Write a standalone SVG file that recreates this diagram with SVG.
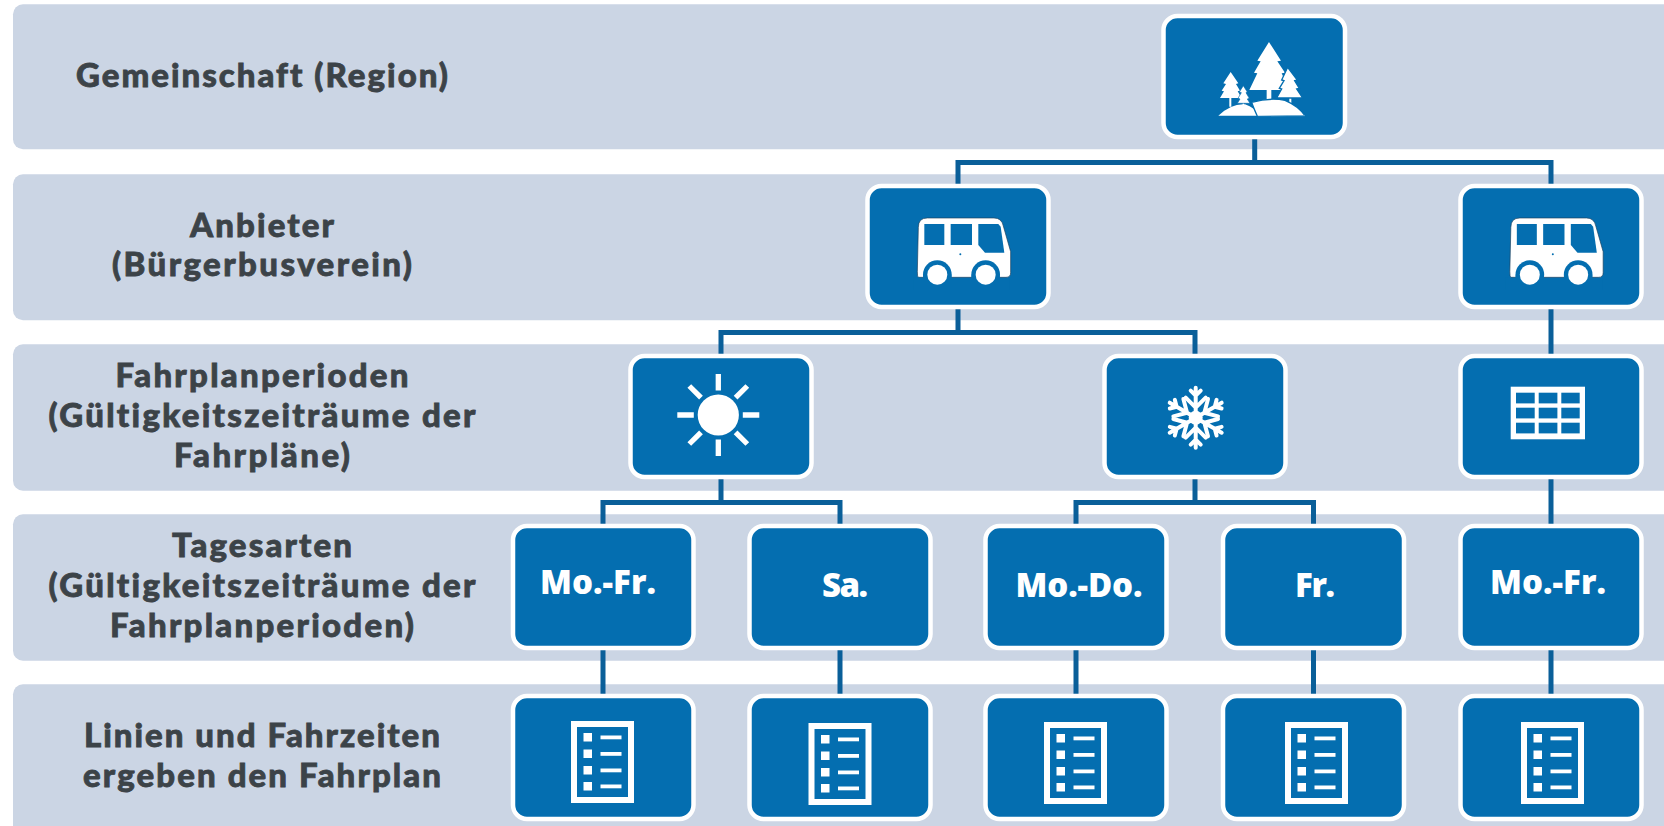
<svg xmlns="http://www.w3.org/2000/svg" xmlns:xlink="http://www.w3.org/1999/xlink" width="1664" height="826" viewBox="0 0 1664 826">
<style>
.band{fill:#cbd5e4}
.node{fill:#046eb0;stroke:#fff;stroke-width:4.500}
.lbl{font-family:"Lato","Noto Sans",sans-serif;font-weight:900;font-size:33px;font-variant-ligatures:none;fill:#3c4348;stroke:#3c4348;stroke-width:.8px;text-anchor:middle}
.day{font-family:"Open Sans","Liberation Sans",sans-serif;font-weight:800;font-size:33px;fill:#fff;text-anchor:middle}
.conn{fill:none;stroke:#0a5f99;stroke-width:5}
</style>
<defs>
<g id="doc">
<rect x="-28" y="-38" width="57" height="76" fill="none" stroke="#fff" stroke-width="6"/>
<g fill="#fff">
<rect x="-18.500" y="-29" width="8.500" height="8.500"/><rect x="-1.500" y="-26.500" width="21" height="3.800"/>
<rect x="-18.500" y="-12.500" width="8.500" height="8.500"/><rect x="-1.500" y="-10" width="21" height="3.800"/>
<rect x="-18.500" y="4" width="8.500" height="8.500"/><rect x="-1.500" y="6.500" width="21" height="3.800"/>
<rect x="-18.500" y="20" width="8.500" height="8.500"/><rect x="-1.500" y="22.500" width="21" height="3.800"/>
</g>
</g>
<g id="bus" transform="translate(870 190) scale(.3333)">
<path d="M145 112Q145 84 172 84H372Q395 84 400 108L422 185V248Q422 262 408 262H145Q142 262 142 245Z" fill="#fff" stroke="#1c3f5c" stroke-width="2"/>
<g fill="#046eb0">
<rect x="163" y="102" width="60" height="63"/>
<rect x="242" y="102" width="64" height="63"/>
<path d="M325 102H385L392 110L403 188H345L325 165Z"/>
<circle cx="202" cy="254" r="43"/><circle cx="347" cy="254" r="43"/>
<circle cx="271" cy="193" r="3"/>
</g>
<path d="M130 262V300H420V264H390A43 43 0 0 0 304 264H245A43 43 0 0 0 159 264Z" fill="#046eb0"/>
<circle cx="202" cy="254" r="30" fill="#fff"/><circle cx="347" cy="254" r="30" fill="#fff"/>
</g>
<g id="arm" fill="none" stroke="#fff" stroke-width="4" stroke-linecap="round" stroke-linejoin="round">
<path d="M0 0V-30M-5 -27L0 -22L5 -27M-10 -20L0 -10L10 -20"/>
</g>
</defs>
<g id="bands">
<rect class="band" x="13" y="4.300" width="1680" height="145" rx="10"/>
<rect class="band" x="13" y="174.300" width="1680" height="146" rx="10"/>
<rect class="band" x="13" y="344.300" width="1680" height="146.400" rx="10"/>
<rect class="band" x="13" y="514.300" width="1680" height="146.400" rx="10"/>
<rect class="band" x="13" y="684.300" width="1680" height="160" rx="10"/>
</g>
<g id="row-labels">
<text class="lbl" x="262" y="87" textLength="372">Gemeinschaft (Region)</text>
<text class="lbl" x="262" y="237" textLength="144">Anbieter</text>
<text class="lbl" x="262" y="276" textLength="300">(Bürgerbusverein)</text>
<text class="lbl" x="262" y="387" textLength="293">Fahrplanperioden</text>
<text class="lbl" x="262" y="427" textLength="427">(Gültigkeitszeiträume der</text>
<text class="lbl" x="262" y="467" textLength="176">Fahrpläne)</text>
<text class="lbl" x="262" y="557" textLength="180">Tagesarten</text>
<text class="lbl" x="262" y="597" textLength="427">(Gültigkeitszeiträume der</text>
<text class="lbl" x="262" y="637" textLength="304">Fahrplanperioden)</text>
<text class="lbl" x="262" y="747" textLength="356">Linien und Fahrzeiten</text>
<text class="lbl" x="262" y="787" textLength="358">ergeben den Fahrplan</text>
</g>
<g id="connectors" class="conn">
<path d="M958 184V162.500H1551V184M1254.700 137V162.500"/>
<path d="M721 354V332.500H1195V354M958 309V332.500"/>
<path d="M1551 309V354"/>
<path d="M603 524V502.500H840V524M721 479V502.500"/>
<path d="M1076 524V502.500H1313.500V524M1195 479V502.500"/>
<path d="M1551 479V524"/>
<path d="M603 650V694M840 650V694M1076 650V694M1313.500 650V694M1551 650V694"/>
</g>
<g id="node-region">
<rect class="node" x="1163.500" y="16" width="181.500" height="121" rx="14"/>
<g transform="translate(1170 20) scale(.3333)" fill="#fff">
<path d="M290 200H304V245H290ZM358 234H364V255H358ZM178 234H184V260H178ZM218 250H222V258H218Z"/>
<path d="M297 66L333 122L322 124L345 158L335 160L358 210L238 210L262 160L252 158L272 124L262 122Z"/>
<path d="M353 142L382 180L374 182L388 205L380 207L398 234H320L335 207L328 205L342 182L335 180Z" stroke="#046eb0" stroke-width="4"/>
<path d="M182 156L205 190L198 192L210 212L203 214L215 234H150L162 214L155 212L168 192L160 190Z"/>
<path d="M220 197L232 216L228 218L238 235L232 237L240 250H202L210 237L204 235L214 218L208 216Z" stroke="#046eb0" stroke-width="2"/>
<path d="M145 287Q185 250 225 253Q255 263 268 287Z"/>
<path d="M262 289Q250 262 245 247Q300 232 345 241Q385 258 405 287Z" stroke="#046eb0" stroke-width="4" stroke-linejoin="miter"/>
<path d="M264 287H405" stroke="#fff" stroke-width="1"/>
</g>
</g>
<g id="node-anbieter-1">
<rect class="node" x="867.500" y="186" width="181" height="121" rx="14"/>
<use xlink:href="#bus" href="#bus"/>
</g>
<g id="node-anbieter-2">
<rect class="node" x="1460.500" y="186" width="181" height="121" rx="14"/>
<use xlink:href="#bus" href="#bus" transform="translate(592.500 0)"/>
</g>
<g id="node-sommer">
<rect class="node" x="630.500" y="356" width="181" height="121" rx="14"/>
<circle cx="718.300" cy="415" r="20.600" fill="#fff"/>
<g stroke="#fff" stroke-width="5.300" transform="translate(718.300 415)">
<path d="M0 -41V-24.500M0 41V24.500M-41 0H-24.500M41 0H24.500M-29 -29L-17.300 -17.300M29 -29L17.300 -17.300M-29 29L-17.300 17.300M29 29L17.300 17.300"/>
</g>
</g>
<g id="node-winter">
<rect class="node" x="1104.500" y="356" width="181" height="121" rx="14"/>
<g transform="translate(1195.700 417.700)">
<circle r="7" fill="#fff"/>
<use xlink:href="#arm" href="#arm"/>
<use xlink:href="#arm" href="#arm" transform="rotate(60)"/>
<use xlink:href="#arm" href="#arm" transform="rotate(120)"/>
<use xlink:href="#arm" href="#arm" transform="rotate(180)"/>
<use xlink:href="#arm" href="#arm" transform="rotate(240)"/>
<use xlink:href="#arm" href="#arm" transform="rotate(300)"/>
</g>
</g>
<g id="node-periode-3">
<rect class="node" x="1460.500" y="356" width="181" height="121" rx="14"/>
<rect x="1510.700" y="386.700" width="74.300" height="52.600" fill="#fff"/>
<g fill="#046eb0">
<rect x="1516" y="392.700" width="18.700" height="10.700"/><rect x="1538.700" y="392.700" width="18.700" height="10.700"/><rect x="1561.300" y="392.700" width="18.400" height="10.700"/>
<rect x="1516" y="407.700" width="18.700" height="10.700"/><rect x="1538.700" y="407.700" width="18.700" height="10.700"/><rect x="1561.300" y="407.700" width="18.400" height="10.700"/>
<rect x="1516" y="422.700" width="18.700" height="10.700"/><rect x="1538.700" y="422.700" width="18.700" height="10.700"/><rect x="1561.300" y="422.700" width="18.400" height="10.700"/>
</g>
</g>
<g id="node-tag-1">
<rect class="node" x="513" y="526" width="180.500" height="122" rx="14"/>
<text class="day" x="598" y="594" textLength="116">Mo.-Fr.</text>
</g>
<g id="node-tag-2">
<rect class="node" x="749.500" y="526" width="181" height="122" rx="14"/>
<text class="day" x="845" y="597" textLength="46">Sa.</text>
</g>
<g id="node-tag-3">
<rect class="node" x="985.500" y="526" width="181" height="122" rx="14"/>
<text class="day" x="1079" y="597" textLength="127">Mo.-Do.</text>
</g>
<g id="node-tag-4">
<rect class="node" x="1223" y="526" width="181" height="122" rx="14"/>
<text class="day" x="1315" y="597" textLength="40">Fr.</text>
</g>
<g id="node-tag-5">
<rect class="node" x="1460.500" y="526" width="181" height="122" rx="14"/>
<text class="day" x="1548" y="594" textLength="116">Mo.-Fr.</text>
</g>
<g id="node-plan-1">
<rect class="node" x="513" y="696" width="180.500" height="123" rx="14"/>
<use xlink:href="#doc" href="#doc" transform="translate(602 762)"/>
</g>
<g id="node-plan-2">
<rect class="node" x="749.500" y="696" width="181" height="123" rx="14"/>
<use xlink:href="#doc" href="#doc" transform="translate(839.500 764)"/>
</g>
<g id="node-plan-3">
<rect class="node" x="985.500" y="696" width="181" height="123" rx="14"/>
<use xlink:href="#doc" href="#doc" transform="translate(1075 763)"/>
</g>
<g id="node-plan-4">
<rect class="node" x="1223" y="696" width="181" height="123" rx="14"/>
<use xlink:href="#doc" href="#doc" transform="translate(1316 763)"/>
</g>
<g id="node-plan-5">
<rect class="node" x="1460.500" y="696" width="181" height="123" rx="14"/>
<use xlink:href="#doc" href="#doc" transform="translate(1552 763)"/>
</g>
</svg>
